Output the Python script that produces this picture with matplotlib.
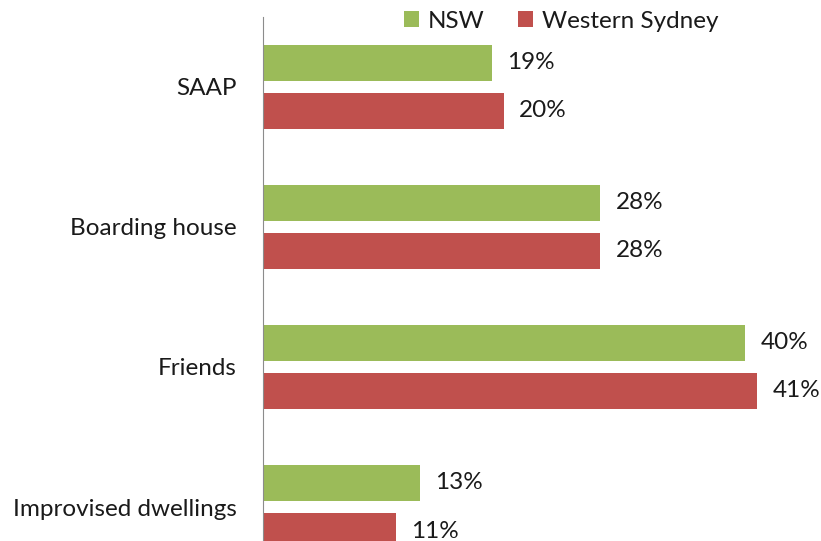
import numpy as np
import matplotlib.pyplot as plt

categories = ['SAAP', 'Boarding house', 'Friends', 'Improvised dwellings']
nsw = [19, 28, 40, 13]
western_sydney = [20, 28, 41, 11]

plt.rcParams['font.family'] = ['Lato', 'DejaVu Sans']

W, H = 821, 541
fig = plt.figure(figsize=(W / 100, H / 100), dpi=100)
# axes placed in pixel terms: y axis line at x=263, top at y=17, runs past bottom edge
ax = fig.add_axes([263 / W, 0, (W - 263) / W, (H - 17) / H])

y = np.arange(len(categories))
off = 24 / 140
h = 36 / 140
b1 = ax.barh(y - off, nsw, height=h, color='#9BBB59', label='NSW')
b2 = ax.barh(y + off, western_sydney, height=h, color='#C0504D', label='Western Sydney')

for bars, vals in [(b1, nsw), (b2, western_sydney)]:
    for bar, v in zip(bars, vals):
        ax.annotate(f'{v}%', (bar.get_width(), bar.get_y() + bar.get_height() / 2),
                    xytext=(11, 0), textcoords='offset points', va='center', ha='left',
                    fontsize=17.5, color='#1a1a1a')

ax.set_xlim(0, (W - 263) / 12.05)
ax.set_ylim(-0.5 + (H - 17) / 140, -0.5)
ax.set_yticks(y)
ax.set_yticklabels(categories, fontsize=17.5, color='#1a1a1a')
ax.tick_params(axis='y', length=0, pad=19)
ax.set_xticks([])
for s in ['top', 'right', 'bottom']:
    ax.spines[s].set_visible(False)
ax.spines['left'].set_color('#8c8c8c')

fig.legend(loc='center', bbox_to_anchor=(561 / W, 1 - 21 / H), ncol=2, frameon=False,
           fontsize=17.5, handlelength=0.62, handleheight=0.62, handletextpad=0.35,
           columnspacing=1.4, labelcolor='#1a1a1a', borderpad=0)

fig.savefig('out.png', dpi=100)
